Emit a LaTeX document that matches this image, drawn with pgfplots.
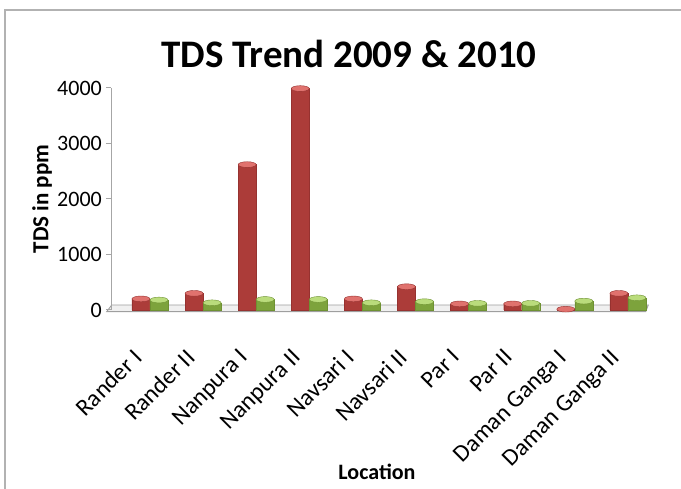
\documentclass[border=0pt]{standalone}
\usepackage{fontspec}
\setmainfont{Carlito}
\usepackage{pgfplots}
\usepackage{pgfplotstable}
\pgfplotsset{compat=1.18}

\definecolor{redEdge}{RGB}{150,50,48}
\definecolor{redSide}{RGB}{172,60,57}
\definecolor{redMid}{RGB}{212,90,86}
\definecolor{redCap}{RGB}{224,114,110}
\definecolor{grnEdge}{RGB}{110,145,50}
\definecolor{grnSide}{RGB}{125,163,60}
\definecolor{grnMid}{RGB}{170,207,100}
\definecolor{grnCap}{RGB}{186,220,124}

% TDS (ppm) per sampling location, 2009 and 2010
\pgfplotstableread{
x  y2009 y2010
0  200   180
1  300   130
2  2620  190
3  3990  190
4  200   130
5  420   150
6  110   120
7  110   120
8  15    160
9  300   220
}\tds

\begin{document}
\begin{tikzpicture}
\path[use as bounding box] (0pt,0pt) rectangle (681pt,489pt);
% chart frame
\draw[gray!60, line width=1.2pt] (5pt,-10pt) -- (5pt,479pt) -- (700pt,479pt);
% floor slab
\filldraw[fill=gray!12, draw=gray!75, line width=0.9pt]
  (106.7pt,177.3pt) -- (645.7pt,177.3pt) -- (648.3pt,184pt) -- (111.7pt,184pt) -- cycle;

\begin{axis}[
  at={(111pt,179pt)}, anchor=south west,
  scale only axis, width=537pt, height=222pt,
  xmin=-0.734, xmax=9.378, ymin=0, ymax=4000,
  axis lines*=left,
  x axis line style={draw=none},
  y axis line style={gray!70, line width=1pt},
  xtick={0,...,9},
  xticklabels={Rander I, Rander II, Nanpura I, Nanpura II, Navsari I,
               Navsari II, Par I, Par II, Daman Ganga I, Daman Ganga II},
  ytick={0,1000,2000,3000,4000},
  tick align=outside, major tick length=5pt,
  xtick style={draw=none},
  ytick style={gray!70, line width=1pt},
  /pgf/number format/.cd, 1000 sep={}, assume math mode=true, /pgfplots/.cd,
  yticklabel style={font=\fontsize{22}{22}\selectfont, inner sep=0pt, xshift=-4pt},
  xticklabel style={font=\fontsize{24}{24}\selectfont, rotate=45, anchor=north east,
                    inner sep=0pt, xshift=-36pt, yshift=-10pt},
  clip=false,
]
% 2009 cylinders
\addplot[ybar, bar width=18pt, bar shift=-9pt, draw=redEdge, line width=0.4pt,
         left color=redSide, middle color=redMid, right color=redSide]
  table[x=x, y=y2009] {\tds};
% 2010 cylinders
\addplot[ybar, bar width=18pt, bar shift=9pt, draw=grnEdge, line width=0.4pt,
         left color=grnSide, middle color=grnMid, right color=grnSide]
  table[x=x, y=y2010] {\tds};
% cylinder tops
\addplot[only marks, mark=*, mark size=9pt, xshift=-9pt,
         mark options={yscale=0.32, fill=redCap, draw=redEdge, line width=0.4pt}]
  table[x=x, y=y2009] {\tds};
\addplot[only marks, mark=*, mark size=9pt, xshift=9pt,
         mark options={yscale=0.32, fill=grnCap, draw=grnEdge, line width=0.4pt}]
  table[x=x, y=y2010] {\tds};
\end{axis}

\node[anchor=base, font=\fontsize{39}{39}\selectfont\bfseries] at (349pt,421pt)
  {TDS Trend 2009 \& 2010};
\node[rotate=90, font=\fontsize{23}{23}\selectfont\bfseries] at (42pt,290pt) {TDS in ppm};
\node[font=\fontsize{22}{22}\selectfont\bfseries] at (377pt,17pt) {Location};
\end{tikzpicture}
\end{document}
